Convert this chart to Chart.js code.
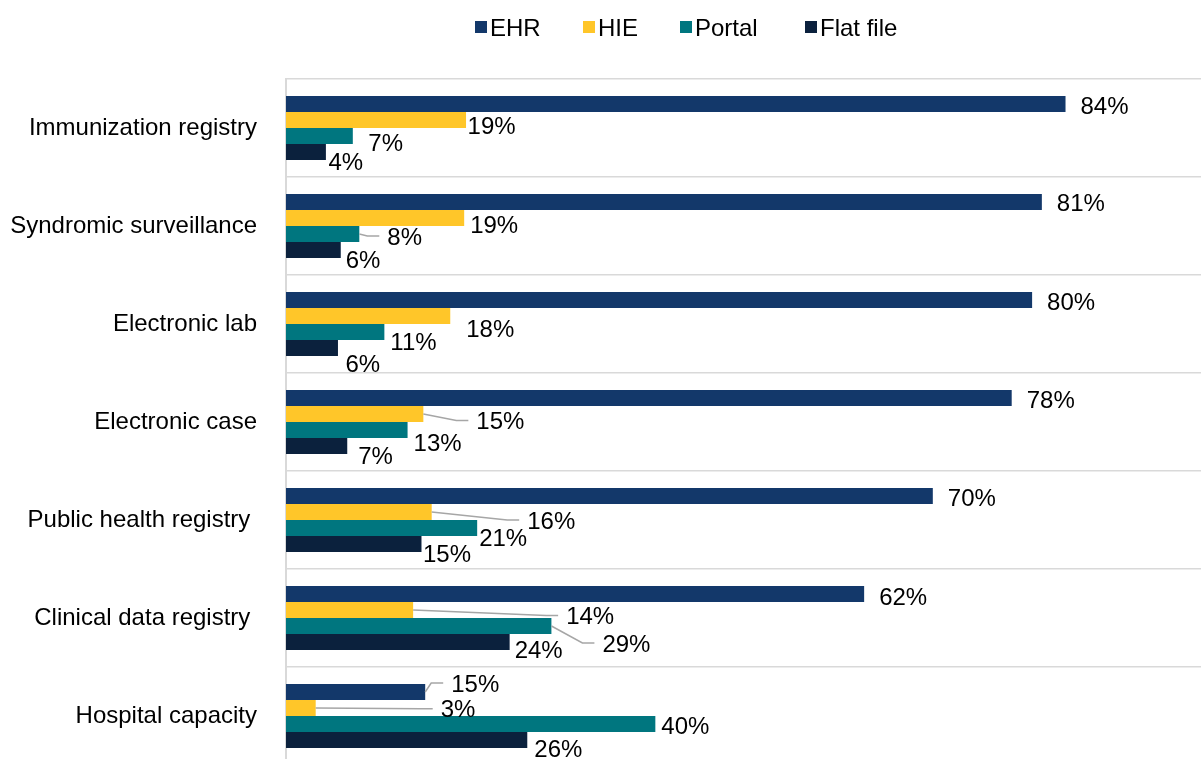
<!DOCTYPE html>
<html>
<head>
<meta charset="utf-8">
<script src="https://cdn.jsdelivr.net/npm/chart.js@4/dist/chart.umd.min.js"></script>
<style>
  html, body { margin: 0; padding: 0; background: #ffffff; overflow: hidden; }
  #wrap { width: 1201px; height: 759px; overflow: hidden; position: relative; }
  #box { width: 1215px; height: 766px; position: absolute; left: 0; top: 0; }
  canvas { display: block; }
</style>
</head>
<body>
<div id="wrap"><div id="box"><canvas id="c"></canvas></div></div>
<script>
// ---- Data ----
const categories = [
  'Immunization registry',
  'Syndromic surveillance',
  'Electronic lab',
  'Electronic case',
  'Public health registry ',
  'Clinical data registry ',
  'Hospital capacity'
];
const seriesNames = ['EHR', 'HIE', 'Portal', 'Flat file'];
const ehr      = [84.0, 81.45, 80.4, 78.2, 69.7, 62.3, 15.0];
const hie      = [19.4, 19.2, 17.7, 14.8, 15.7, 13.7, 3.2];
const portal   = [7.2, 7.9, 10.6, 13.1, 20.6, 28.6, 39.8];
const flatFile = [4.3, 5.9, 5.6, 6.6, 14.6, 24.1, 26.0];

// ---- Styling ----
const colors = ['#13386a', '#ffc629', '#00767f', '#0b213d'];
const FONT = '"Liberation Sans", Arial, sans-serif';

// data-label nudges (px, relative to bar end / bar centre) and leader-line flags
const labelDx = [
  [15, 15, 15, 15, 15, 15, 26],
  [1.5, 6, 16, 53, 95.5, 153, 125],
  [15.5, 28, 6, 6, 2, 51, 6],
  [2.5, 5, 7.5, 11, 1.5, 5, 7]
];
const labelDy = [
  [1, 0, 1, 1, 1, 2, -9],
  [5.5, 6.5, 12, 6.5, 8, 5.5, 0.7],
  [6.5, 2, 9, 12.7, 9.3, 17, 1.5],
  [9, 9, 15, 9, 9, 7.5, 8]
];
const leaders = [
  [false, false, false, false, false, false, true],
  [false, false, false, true, true, true, true],
  [false, true, false, false, false, true, false],
  [false, false, false, false, false, false, false]
];
const legendX = [475, 583, 680, 805];

const valueLabels = {
  id: 'valueLabels',
  afterDatasetsDraw(chart) {
    const ctx = chart.ctx;
    ctx.save();
    ctx.font = '24px ' + FONT;
    ctx.fillStyle = '#000000';
    ctx.textAlign = 'left';
    ctx.textBaseline = 'alphabetic';
    chart.data.datasets.forEach((ds, di) => {
      const meta = chart.getDatasetMeta(di);
      meta.data.forEach((el, i) => {
        const x = el.x + labelDx[di][i];
        const yc = el.y + labelDy[di][i];
        if (leaders[di][i]) {
          ctx.save();
          ctx.strokeStyle = '#a6a6a6';
          ctx.lineWidth = 1.5;
          ctx.beginPath();
          ctx.moveTo(el.x, el.y);
          ctx.lineTo(x - 20, yc);
          ctx.lineTo(x - 8, yc);
          ctx.stroke();
          ctx.restore();
        }
        ctx.fillText(Math.round(ds.data[i]) + '%', x, yc + 8.6);
      });
    });
    ctx.restore();
  }
};

const customLegend = {
  id: 'customLegend',
  afterDraw(chart) {
    const ctx = chart.ctx;
    ctx.save();
    ctx.font = '24px ' + FONT;
    ctx.textAlign = 'left';
    ctx.textBaseline = 'alphabetic';
    chart.data.datasets.forEach((ds, di) => {
      const bx = legendX[di];
      ctx.fillStyle = ds.backgroundColor;
      ctx.fillRect(bx, 21, 12, 12);
      ctx.fillStyle = '#000000';
      ctx.fillText(ds.label, bx + 15, 35.5);
    });
    ctx.restore();
  }
};

const seriesData = [ehr, hie, portal, flatFile];

new Chart(document.getElementById('c'), {
  type: 'bar',
  data: {
    labels: categories,
    datasets: seriesNames.map((name, i) => ({
      label: name,
      data: seriesData[i],
      backgroundColor: colors[i],
      borderWidth: 0,
      categoryPercentage: 0.653,
      barPercentage: 1.0
    }))
  },
  options: {
    indexAxis: 'y',
    responsive: true,
    maintainAspectRatio: false,
    animation: false,
    devicePixelRatio: 1,
    layout: { padding: { top: 79, right: 1, bottom: 1, left: 0 } },
    plugins: {
      legend: { display: false },
      tooltip: { enabled: false }
    },
    scales: {
      x: { display: false, min: 0, max: 100 },
      y: {
        grid: { color: '#d9d9d9', lineWidth: 1.5, drawTicks: false, offset: true },
        border: { color: '#d9d9d9', width: 2 },
        ticks: {
          font: { family: FONT, size: 24 },
          color: '#000000',
          padding: 29
        },
        afterFit(scale) {
          scale.width = 286;
          scale.paddingTop = 0;
          scale.paddingBottom = 0;
        }
      }
    }
  },
  plugins: [valueLabels, customLegend]
});
</script>
</body>
</html>
